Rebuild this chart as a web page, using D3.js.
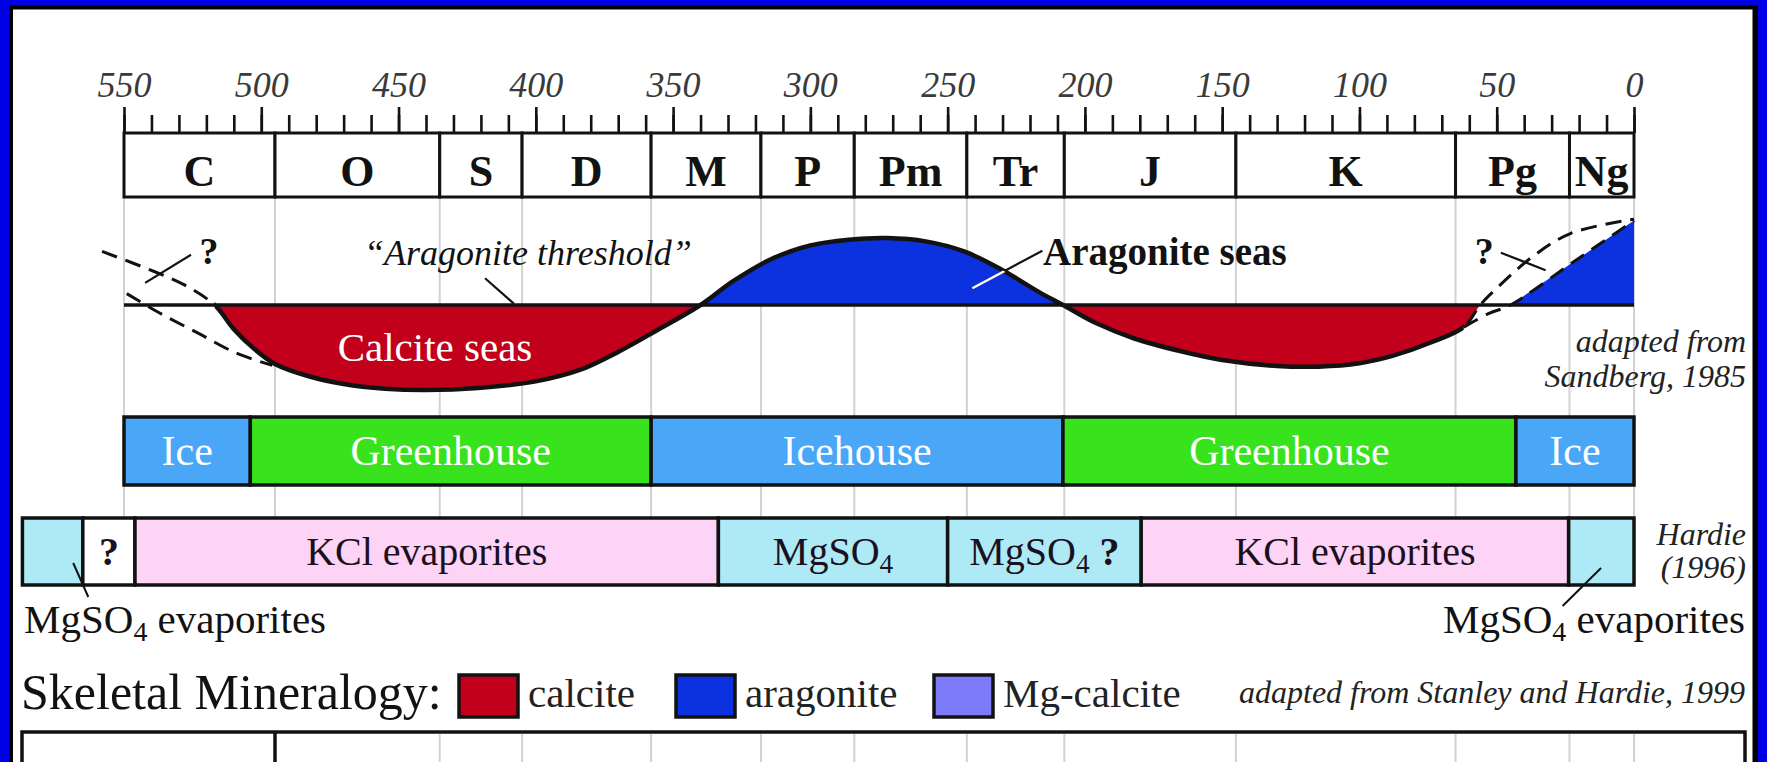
<!DOCTYPE html>
<html>
<head>
<meta charset="utf-8">
<script src="https://cdnjs.cloudflare.com/ajax/libs/d3/7.8.5/d3.min.js"></script>
<style>
  html, body { margin: 0; padding: 0; background: #0000e6; overflow: hidden; }
  svg { display: block; }
  text { font-family: "Liberation Serif", "Times New Roman", serif; }
</style>
</head>
<body>
<svg id="chart" width="1767" height="762"></svg>
<script>
// ---------- data (ages in Ma) ----------
const ageTicks = [550, 500, 450, 400, 350, 300, 250, 200, 150, 100, 50, 0];
const minorTicks = [550,540,530,520,510,500,490,480,470,460,450,440,430,420,410,400,390,380,370,360,350,340,330,320,310,300,290,280,270,260,250,240,230,220,210,200,190,180,170,160,150,140,130,120,110,100,90,80,70,60,50,40,30,20,10,0];

const periodNames  = ["C", "O", "S", "D", "M", "P", "Pm", "Tr", "J", "K", "Pg", "Ng"];
const periodBounds = [550, 495, 435, 405, 358, 318, 284, 243, 207.5, 145, 65, 23.5, 0];

const climateNames  = ["Ice", "Greenhouse", "Icehouse", "Greenhouse", "Ice"];
const climateKinds  = ["ice", "green", "ice", "green", "ice"];
const climateBounds = [550, 504, 358, 208, 43, 0];

const evapNames  = ["", "?", "KCl evaporites", "MgSO4", "MgSO4 ?", "KCl evaporites", ""];
const evapKinds  = ["mg", "unknown", "kcl", "mg", "mg", "kcl", "mg"];
const evapBounds = [587, 565, 546, 333.5, 250, 179.5, 23.8, 0];

// sea chemistry relative to the aragonite threshold (0), arbitrary units
const leftUpperDashed = [[558, 0.8], [539, 0.5], [528, 0.3], [517, 0]];
const seaSolid = [[517, 0], [510, -0.36], [503, -0.64], [495, -0.88], [483, -1.06], [470, -1.18], [455, -1.25],
  [440, -1.27], [421, -1.24], [400, -1.14], [384, -0.97], [370, -0.7], [356, -0.38], [340, 0], [328, 0.36],
  [314, 0.69], [300, 0.89], [286, 0.975], [272, 1.0], [258, 0.95], [244, 0.8], [230, 0.52], [217, 0.2],
  [208, 0], [196, -0.27], [182, -0.5], [165, -0.69], [150, -0.82], [130, -0.91], [115, -0.92], [100, -0.87],
  [88, -0.76], [74, -0.56], [62, -0.33]];
const rightUpperDashed = [[62, -0.33], [56, 0], [50, 0.25], [37, 0.72], [23, 1.07], [0, 1.28]];
const leftLowerDashed  = [[549, 0.17], [537, -0.12], [523, -0.42], [509, -0.72], [496, -0.9]];
const rightLowerDashed = [[62, -0.33], [53, -0.13], [45, 0], [22.5, 0.63], [0, 1.26]];
const neogeneWedge     = [[45, 0], [22.5, 0.63], [0, 1.26]];

const colors = {
  calcite: "#c2001b", aragonite: "#0c32e0", mgcalcite: "#7c7af8",
  ice: "#4aa6f6", green: "#38e21c", mg: "#aeeaf6", kcl: "#fdd3f6", unknown: "#ffffff"
};
const legendItems = [["calcite", "calcite"], ["aragonite", "aragonite"], ["Mg-calcite", "mgcalcite"]];

// ---------- layout ----------
const W = 1767, H = 762;
const svg = d3.select("#chart");
const ink = "#121212";

const x = d3.scaleLinear().domain([550, 0]).range([124, 1634]);
const lv = d3.scaleLinear().domain([0, 1]).range([305, 238]);

// frame
svg.append("rect").attr("width", W).attr("height", H).attr("fill", "#0000e6");
svg.append("rect").attr("x", 9.5).attr("y", 5).attr("width", 1748.5).attr("height", H + 20).attr("fill", "#000");
svg.append("rect").attr("x", 13).attr("y", 9.5).attr("width", 1739.5).attr("height", H + 20).attr("fill", "#fff");

// faint period grid lines
const grid = svg.append("g").attr("stroke", "#d2d2d2").attr("stroke-width", 2);
grid.selectAll("line.up").data(periodBounds).join("line").attr("class", "up")
  .attr("x1", d => x(d)).attr("x2", d => x(d)).attr("y1", 197).attr("y2", 518);
grid.selectAll("line.low").data(periodBounds.filter(d => d < 495)).join("line").attr("class", "low")
  .attr("x1", d => x(d)).attr("x2", d => x(d)).attr("y1", 734).attr("y2", H);

// time axis
const minorAxis = d3.axisTop(x).tickValues(minorTicks).tickSize(18).tickFormat("");
const majorAxis = d3.axisTop(x).tickValues(ageTicks).tickSize(26).tickPadding(10).tickFormat(d3.format("d"));
const gMinor = svg.append("g").attr("transform", "translate(0,133)").call(minorAxis);
const gMajor = svg.append("g").attr("transform", "translate(0,133)").call(majorAxis);
[gMinor, gMajor].forEach(g => {
  g.select(".domain").remove();
  g.selectAll(".tick line").attr("stroke", ink).attr("stroke-width", 2.6);
});
gMajor.attr("font-family", "Liberation Serif").attr("font-size", 36);
gMajor.selectAll(".tick text").attr("fill", "#3a3a3a").attr("font-style", "italic");

// period boxes
const periods = periodNames.map((n, i) => ({ name: n, a: periodBounds[i], b: periodBounds[i + 1] }));
const gp = svg.append("g");
gp.selectAll("rect").data(periods).join("rect")
  .attr("x", d => x(d.a)).attr("width", d => x(d.b) - x(d.a)).attr("y", 133).attr("height", 64)
  .attr("fill", "#fff").attr("stroke", ink).attr("stroke-width", 3);
gp.selectAll("text").data(periods).join("text")
  .attr("x", d => (x(d.a) + x(d.b)) / 2).attr("y", 186).attr("text-anchor", "middle")
  .attr("font-size", 44).attr("font-weight", "bold").attr("fill", ink).text(d => d.name);

// ---------- sea chemistry curve ----------
const defs = svg.append("defs");
const curve = d3.curveCatmullRom.alpha(0.5);
const line = d3.line().x(d => x(d[0])).y(d => lv(d[1])).curve(curve);
const area = d3.area().x(d => x(d[0])).y0(lv(0)).y1(d => lv(d[1])).curve(curve);
const seaCurve = leftUpperDashed.concat(seaSolid.slice(1), rightUpperDashed.slice(1));

function clipRect(id, rects) {
  const c = defs.append("clipPath").attr("id", id);
  rects.forEach(r => c.append("rect").attr("x", r[0]).attr("y", r[1]).attr("width", r[2] - r[0]).attr("height", r[3] - r[1]));
}
const xStart = x(517), xCross = x(56), xEnd = x(62);
clipRect("clipRed", [[xStart, lv(0), xCross, 460]]);
clipRect("clipBlue", [[xStart, 150, xCross, lv(0)]]);
clipRect("clipSolid", [[xStart, 150, xEnd, 460]]);
clipRect("clipDash", [[0, 150, xStart, 460], [xEnd, 150, W, 460]]);

const gs = svg.append("g");
gs.append("path").attr("d", area(seaCurve)).attr("fill", colors.calcite).attr("clip-path", "url(#clipRed)");
gs.append("path").attr("d", area(seaCurve)).attr("fill", colors.aragonite).attr("clip-path", "url(#clipBlue)");
gs.append("path").attr("d", d3.area().x(d => x(d[0])).y0(lv(0)).y1(d => lv(d[1]))(neogeneWedge))
  .attr("fill", colors.aragonite);

// blue region as a clip for the white part of the pointer
defs.append("clipPath").attr("id", "clipAragonite")
  .append("path").attr("d", area(seaCurve)).attr("clip-path", "url(#clipBlue)");

// threshold line
gs.append("line").attr("x1", x(550)).attr("x2", x(0)).attr("y1", lv(0)).attr("y2", lv(0))
  .attr("stroke", ink).attr("stroke-width", 3.5);

gs.append("path").attr("d", line(seaCurve)).attr("fill", "none").attr("stroke", ink)
  .attr("stroke-width", 4.5).attr("clip-path", "url(#clipSolid)");
const dashStyle = sel => sel.attr("fill", "none").attr("stroke", ink).attr("stroke-width", 3).attr("stroke-dasharray", "16 9");
gs.append("path").attr("d", line(seaCurve)).call(dashStyle).attr("clip-path", "url(#clipDash)");
gs.append("path").attr("d", line(leftLowerDashed)).call(dashStyle);
gs.append("path").attr("d", line(rightLowerDashed)).call(dashStyle);

// question-mark pointers
const pointer = (a, b, color, w) => gs.append("line")
  .attr("x1", x(a[0])).attr("y1", lv(a[1])).attr("x2", x(b[0])).attr("y2", lv(b[1]))
  .attr("stroke", color).attr("stroke-width", w);
pointer([542.3, 0.33], [525.6, 0.75], ink, 2.2);
pointer([48.5, 0.78], [32.2, 0.52], ink, 2.2);
gs.append("text").attr("x", x(519)).attr("y", 264).attr("text-anchor", "middle")
  .attr("font-size", 38).attr("font-weight", "bold").attr("fill", ink).text("?");
gs.append("text").attr("x", x(54.5)).attr("y", 264).attr("text-anchor", "middle")
  .attr("font-size", 38).attr("font-weight", "bold").attr("fill", ink).text("?");

// threshold annotation
pointer([418.5, 0.40], [408, 0.02], ink, 2.2);
gs.append("text").attr("x", 364).attr("y", 265).attr("font-size", 36).attr("font-style", "italic")
  .attr("fill", ink).text("\u201CAragonite threshold\u201D");

// aragonite seas annotation (pointer is white inside the blue fill)
pointer([241, 0.25], [215.5, 0.81], ink, 2.2);
gs.append("line").attr("x1", x(241)).attr("y1", lv(0.25)).attr("x2", x(215.5)).attr("y2", lv(0.81))
  .attr("stroke", "#fff").attr("stroke-width", 2.4).attr("clip-path", "url(#clipAragonite)");
gs.append("text").attr("x", 1043).attr("y", 265).attr("font-size", 39).attr("font-weight", "bold")
  .attr("fill", ink).text("Aragonite seas");

gs.append("text").attr("x", 435).attr("y", 361).attr("text-anchor", "middle").attr("font-size", 41)
  .attr("fill", "#fff").text("Calcite seas");

const srcA = gs.append("text").attr("text-anchor", "end").attr("font-size", 32).attr("font-style", "italic").attr("fill", "#222");
srcA.append("tspan").attr("x", 1746).attr("y", 352).text("adapted from");
srcA.append("tspan").attr("x", 1746).attr("y", 387).text("Sandberg, 1985");

// ---------- climate bar ----------
const climate = climateNames.map((n, i) => ({ name: n, kind: climateKinds[i], a: climateBounds[i], b: climateBounds[i + 1] }));
const gc = svg.append("g");
gc.selectAll("rect").data(climate).join("rect")
  .attr("x", d => x(d.a)).attr("width", d => x(d.b) - x(d.a)).attr("y", 417).attr("height", 68)
  .attr("fill", d => colors[d.kind]).attr("stroke", ink).attr("stroke-width", 3.5);
gc.selectAll("text").data(climate).join("text")
  .attr("x", d => (x(d.a) + x(d.b)) / 2).attr("y", 465).attr("text-anchor", "middle")
  .attr("font-size", 42).attr("fill", "#fff").text(d => d.name);

// ---------- evaporite bar ----------
function chemLabel(sel, label, size) {
  // renders MgSO4 with a subscript 4, then returns to the baseline
  const drop = Math.round(size * 0.2);
  const i = label.indexOf("MgSO4");
  if (i < 0) { sel.append("tspan").attr("font-weight", label === "?" ? "bold" : null).text(label); return; }
  if (i > 0) sel.append("tspan").text(label.slice(0, i));
  sel.append("tspan").text("MgSO");
  sel.append("tspan").attr("font-size", size * 0.68).attr("dy", drop).text("4");
  const rest = label.slice(i + 5);
  if (rest) {
    sel.append("tspan").attr("dy", -drop)
      .attr("font-weight", rest.trim() === "?" ? "bold" : null).text(rest.replace(/^ /, "\u00A0"));
  }
}
const evap = evapNames.map((n, i) => ({ name: n, kind: evapKinds[i], a: evapBounds[i], b: evapBounds[i + 1] }));
const ge = svg.append("g");
ge.selectAll("rect").data(evap).join("rect")
  .attr("x", d => x(d.a)).attr("width", d => x(d.b) - x(d.a)).attr("y", 518).attr("height", 67)
  .attr("fill", d => colors[d.kind]).attr("stroke", ink).attr("stroke-width", 3.5);
ge.selectAll("text").data(evap.filter(d => d.name)).join("text")
  .attr("x", d => (x(d.a) + x(d.b)) / 2).attr("y", 565).attr("text-anchor", "middle")
  .attr("font-size", 40).attr("fill", "#1a1020")
  .each(function (d) { chemLabel(d3.select(this), d.name, 40); });

const srcB = ge.append("text").attr("text-anchor", "end").attr("font-size", 32).attr("font-style", "italic").attr("fill", "#222");
srcB.append("tspan").attr("x", 1746).attr("y", 545).text("Hardie");
srcB.append("tspan").attr("x", 1746).attr("y", 578).text("(1996)");

// MgSO4 evaporites callouts
ge.append("line").attr("x1", x(568.5)).attr("y1", 563).attr("x2", x(563)).attr("y2", 597)
  .attr("stroke", ink).attr("stroke-width", 2);
ge.append("line").attr("x1", x(12)).attr("y1", 568).attr("x2", x(26)).attr("y2", 606)
  .attr("stroke", ink).attr("stroke-width", 2);
const calloutL = ge.append("text").attr("x", 24).attr("y", 633).attr("font-size", 41).attr("fill", ink);
chemLabel(calloutL, "MgSO4 evaporites", 41);
const calloutR = ge.append("text").attr("x", 1745).attr("y", 633).attr("text-anchor", "end").attr("font-size", 41).attr("fill", ink);
chemLabel(calloutR, "MgSO4 evaporites", 41);

// ---------- skeletal mineralogy legend ----------
const gl = svg.append("g");
gl.append("text").attr("x", 21).attr("y", 709).attr("font-size", 50).attr("fill", ink).text("Skeletal Mineralogy:");
const legendX = [459, 676, 934];
legendItems.forEach((it, i) => {
  gl.append("rect").attr("x", legendX[i]).attr("y", 675).attr("width", 59).attr("height", 42)
    .attr("fill", colors[it[1]]).attr("stroke", ink).attr("stroke-width", 3.5);
  gl.append("text").attr("x", legendX[i] + 69).attr("y", 707).attr("font-size", 41).attr("fill", "#222").text(it[0]);
});
gl.append("text").attr("x", 1745).attr("y", 703).attr("text-anchor", "end").attr("font-size", 32)
  .attr("font-style", "italic").attr("fill", "#222").text("adapted from Stanley and Hardie, 1999");

// lower table frame
gl.append("rect").attr("x", 22).attr("y", 732).attr("width", 1723).attr("height", 80)
  .attr("fill", "none").attr("stroke", ink).attr("stroke-width", 3.5);
gl.append("line").attr("x1", x(495)).attr("x2", x(495)).attr("y1", 732).attr("y2", H)
  .attr("stroke", ink).attr("stroke-width", 3.5);
</script>
</body>
</html>
